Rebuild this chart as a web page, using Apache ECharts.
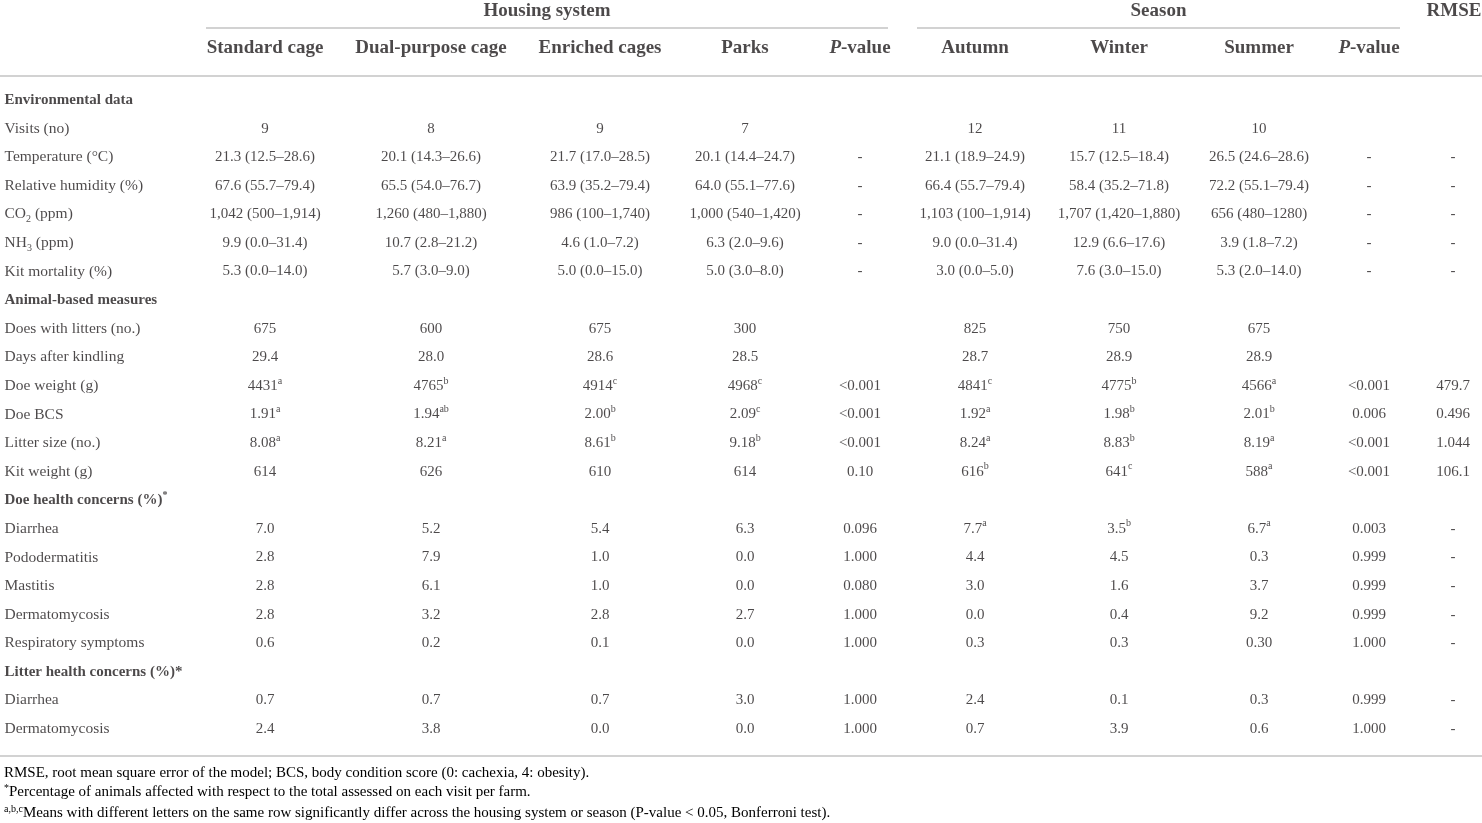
<!DOCTYPE html>
<html lang="en">
<head>
  <meta charset="UTF-8">
  <title>Housing system and season table</title>
  <script src="https://cdn.jsdelivr.net/npm/echarts@6/dist/echarts.min.js"></script>
  <style>
    html, body { margin: 0; padding: 0; background: #fff; }
  </style>
</head>
<body>
  <div id="chart" style="width: 1482px; height: 823px"></div>

  <script>
    // ---- table content ----
    const groupHeaders = ['Housing system', 'Season', 'RMSE']
    const columnHeaders = ['Standard cage', 'Dual-purpose cage', 'Enriched cages', 'Parks', 'P-value',
      'Autumn', 'Winter', 'Summer', 'P-value', '']

    // section rows are bold
    const sectionRows = [0, 7, 14, 20]
    const rowLabels = [
      'Environmental data', 'Visits (no)', 'Temperature (°C)', 'Relative humidity (%)', 'CO_2 (ppm)',
      'NH_3 (ppm)', 'Kit mortality (%)',
      'Animal-based measures', 'Does with litters (no.)', 'Days after kindling', 'Doe weight (g)', 'Doe BCS',
      'Litter size (no.)', 'Kit weight (g)',
      'Doe health concerns (%)^*', 'Diarrhea', 'Pododermatitis', 'Mastitis', 'Dermatomycosis', 'Respiratory symptoms',
      'Litter health concerns (%)*', 'Diarrhea', 'Dermatomycosis'
    ]
    const standardCage = ['', '9', '21.3 (12.5–28.6)', '67.6 (55.7–79.4)', '1,042 (500–1,914)', '9.9 (0.0–31.4)', '5.3 (0.0–14.0)',
      '', '675', '29.4', '4431^a', '1.91^a', '8.08^a', '614',
      '', '7.0', '2.8', '2.8', '2.8', '0.6', '', '0.7', '2.4']
    const dualPurpose = ['', '8', '20.1 (14.3–26.6)', '65.5 (54.0–76.7)', '1,260 (480–1,880)', '10.7 (2.8–21.2)', '5.7 (3.0–9.0)',
      '', '600', '28.0', '4765^b', '1.94^ab', '8.21^a', '626',
      '', '5.2', '7.9', '6.1', '3.2', '0.2', '', '0.7', '3.8']
    const enriched = ['', '9', '21.7 (17.0–28.5)', '63.9 (35.2–79.4)', '986 (100–1,740)', '4.6 (1.0–7.2)', '5.0 (0.0–15.0)',
      '', '675', '28.6', '4914^c', '2.00^b', '8.61^b', '610',
      '', '5.4', '1.0', '1.0', '2.8', '0.1', '', '0.7', '0.0']
    const parks = ['', '7', '20.1 (14.4–24.7)', '64.0 (55.1–77.6)', '1,000 (540–1,420)', '6.3 (2.0–9.6)', '5.0 (3.0–8.0)',
      '', '300', '28.5', '4968^c', '2.09^c', '9.18^b', '614',
      '', '6.3', '0.0', '0.0', '2.7', '0.0', '', '3.0', '0.0']
    const housingP = ['', '', '-', '-', '-', '-', '-',
      '', '', '', '<0.001', '<0.001', '<0.001', '0.10',
      '', '0.096', '1.000', '0.080', '1.000', '1.000', '', '1.000', '1.000']
    const autumn = ['', '12', '21.1 (18.9–24.9)', '66.4 (55.7–79.4)', '1,103 (100–1,914)', '9.0 (0.0–31.4)', '3.0 (0.0–5.0)',
      '', '825', '28.7', '4841^c', '1.92^a', '8.24^a', '616^b',
      '', '7.7^a', '4.4', '3.0', '0.0', '0.3', '', '2.4', '0.7']
    const winter = ['', '11', '15.7 (12.5–18.4)', '58.4 (35.2–71.8)', '1,707 (1,420–1,880)', '12.9 (6.6–17.6)', '7.6 (3.0–15.0)',
      '', '750', '28.9', '4775^b', '1.98^b', '8.83^b', '641^c',
      '', '3.5^b', '4.5', '1.6', '0.4', '0.3', '', '0.1', '3.9']
    const summer = ['', '10', '26.5 (24.6–28.6)', '72.2 (55.1–79.4)', '656 (480–1280)', '3.9 (1.8–7.2)', '5.3 (2.0–14.0)',
      '', '675', '28.9', '4566^a', '2.01^b', '8.19^a', '588^a',
      '', '6.7^a', '0.3', '3.7', '9.2', '0.30', '', '0.3', '0.6']
    const seasonP = ['', '', '-', '-', '-', '-', '-',
      '', '', '', '<0.001', '0.006', '<0.001', '<0.001',
      '', '0.003', '0.999', '0.999', '0.999', '1.000', '', '0.999', '1.000']
    const rmse = ['', '', '-', '-', '-', '-', '-',
      '', '', '', '479.7', '0.496', '1.044', '106.1',
      '', '-', '-', '-', '-', '-', '', '-', '-']

    const footnotes = [
      'RMSE, root mean square error of the model; BCS, body condition score (0: cachexia, 4: obesity).',
      '^*Percentage of animals affected with respect to the total assessed on each visit per farm.',
      '^a,b,cMeans with different letters on the same row significantly differ across the housing system or season (P-value < 0.05, Bonferroni test).'
    ]

    // ---- layout (not data) ----
    const W = 1482
    const colWidths = [182, 166, 166, 172, 118, 112, 118, 170, 110, 110, 58] // first = label column
    const groupSpans = [[206, 888], [917, 1400], [1426, 1482]]
    const FONT = '"Liberation Serif", "DejaVu Serif", serif'
    const INK = '#1f1c1d'
    const RULE = '#d2d2d2'

    const columns = [standardCage, dualPurpose, enriched, parks, housingP, autumn, winter, summer, seasonP, rmse]
    const centers = []
    let acc = colWidths[0]
    for (let j = 1; j < colWidths.length; j++) {
      centers.push(acc + colWidths[j] / 2)
      acc += colWidths[j]
    }

    const rich = {
      n: { fontFamily: FONT, fontSize: 15, color: INK, lineHeight: 20 },
      l: { fontFamily: FONT, fontSize: 15.5, color: INK, lineHeight: 20 },
      b: { fontFamily: FONT, fontSize: 15, fontWeight: 'bold', color: INK, lineHeight: 20 },
      h: { fontFamily: FONT, fontSize: 19, fontWeight: 'bold', color: INK, lineHeight: 24 },
      hi: { fontFamily: FONT, fontSize: 19, fontWeight: 'bold', fontStyle: 'italic', color: INK, lineHeight: 24 },
      sup: { fontFamily: FONT, fontSize: 10, color: INK, lineHeight: 10, verticalAlign: 'top' },
      supb: { fontFamily: FONT, fontSize: 10, fontWeight: 'bold', color: INK, lineHeight: 10, verticalAlign: 'top' },
      sub: { fontFamily: FONT, fontSize: 10, color: INK, lineHeight: 10, verticalAlign: 'bottom' },
      f: { fontFamily: FONT, fontSize: 15, color: INK, lineHeight: 18 },
      fsup: { fontFamily: FONT, fontSize: 10, color: INK, lineHeight: 9, verticalAlign: 'top' }
    }

    // turn "4431^a" / "CO_2" into rich text
    function toRich(s, base, supKey) {
      if (base === 'h' && s === 'P-value') return '{hi|P}{h|-value}'
      return s.split(/(\^[a-z,*]+|_\d+)/).filter(p => p !== '').map(p => {
        if (p[0] === '^') return '{' + supKey + '|' + p.slice(1) + '}'
        if (p[0] === '_') return '{sub|' + p.slice(1) + '}'
        return '{' + base + '|' + p + '}'
      }).join('')
    }

    const labelData = rowLabels.map((t, i) => ({
      value: [4, i],
      text: sectionRows.includes(i) ? toRich(t, 'b', 'supb') : toRich(t, 'l', 'sup')
    }))

    const cellData = []
    columns.forEach((col, j) => {
      col.forEach((t, i) => {
        if (t !== '') cellData.push({ value: [centers[j], i], text: toRich(t, 'n', 'sup') })
      })
    })

    const headerData = []
    groupHeaders.forEach((t, k) => {
      headerData.push({ value: [(groupSpans[k][0] + groupSpans[k][1]) / 2, 0], text: toRich(t, 'h', 'sup') })
    })
    columnHeaders.forEach((t, j) => {
      if (t !== '') headerData.push({ value: [centers[j], 1], text: toRich(t, 'h', 'sup') })
    })

    const textSeries = (name, data, gridIdx, left) => ({
      name: name,
      type: 'scatter',
      xAxisIndex: gridIdx,
      yAxisIndex: gridIdx,
      symbolSize: 1,
      itemStyle: { color: 'rgba(0,0,0,0)' },
      silent: true,
      label: {
        show: true,
        position: left ? 'right' : 'inside',
        distance: 0,
        formatter: p => p.data.text,
        rich: rich
      },
      data: data
    })

    const graphics = [
      { type: 'line', shape: { x1: groupSpans[0][0], y1: 28, x2: groupSpans[0][1], y2: 28 }, style: { stroke: RULE, lineWidth: 2 } },
      { type: 'line', shape: { x1: groupSpans[1][0], y1: 28, x2: groupSpans[1][1], y2: 28 }, style: { stroke: RULE, lineWidth: 2 } },
      { type: 'line', shape: { x1: 0, y1: 76, x2: W, y2: 76 }, style: { stroke: RULE, lineWidth: 2 } },
      { type: 'line', shape: { x1: 0, y1: 756, x2: W, y2: 756 }, style: { stroke: RULE, lineWidth: 2 } }
    ]
    const noteTop = [773, 792, 813]
    footnotes.forEach((t, k) => {
      graphics.push({
        type: 'text',
        x: 4,
        y: noteTop[k],
        style: { text: toRich(t, 'f', 'fsup'), rich: rich, verticalAlign: 'middle' }
      })
    })

    const myChart = echarts.init(document.getElementById('chart'))
    myChart.setOption({
      animation: false,
      backgroundColor: '#fff',
      grid: [
        { left: 0, right: 0, top: 11, height: 37 },
        { left: 0, right: 0, top: 100, height: 629 }
      ],
      xAxis: [
        { type: 'value', gridIndex: 0, min: 0, max: W, show: false },
        { type: 'value', gridIndex: 1, min: 0, max: W, show: false }
      ],
      yAxis: [
        { type: 'value', gridIndex: 0, min: 0, max: 1, inverse: true, show: false },
        { type: 'value', gridIndex: 1, min: 0, max: rowLabels.length - 1, inverse: true, show: false }
      ],
      series: [
        textSeries('header', headerData, 0, false),
        textSeries('rows', labelData, 1, true),
        textSeries('cells', cellData, 1, false)
      ],
      graphic: graphics
    })
  </script>
</body>
</html>
